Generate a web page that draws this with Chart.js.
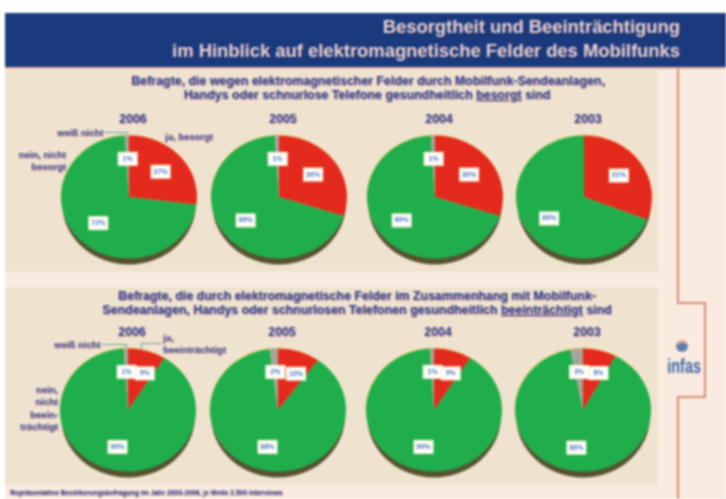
<!DOCTYPE html>
<html lang="de">
<head>
<meta charset="utf-8">
<title>Besorgtheit und Beeinträchtigung</title>
<script src="https://cdn.jsdelivr.net/npm/chart.js@4"></script>
<style>
html,body{margin:0;background:#fff;overflow:hidden}
#page{position:relative;width:726px;height:499px;overflow:hidden;background:#fff;filter:blur(1px);font-family:"Liberation Sans",Arial,sans-serif}
#page div,#page canvas{position:absolute}
.bg{left:5px;top:67px;width:721px;height:432px;background:#f9ebdf}
.band{left:5px;top:13px;width:721px;height:54px;background:#1b3a7d;border-bottom:2px solid #e9b3a4;box-sizing:content-box}
.panel{background:#efe3d0}
.rule{background:#d98a78}
.title{right:46px;color:#ead3da;font-weight:bold;font-size:18.4px;white-space:nowrap;text-shadow:1px 1px 0 #0f2557}
.sub,.year,.lab,.foot{color:#27408f;font-weight:bold;white-space:nowrap;text-shadow:1px 1px 0 rgba(226,120,120,.55)}
.sub{font-size:12.4px;transform:translateX(-50%)}
.year{font-size:12.3px;transform:translateX(-50%)}
.lab{font-size:9.5px;line-height:12.3px;color:#3d5196}
.lab.r{text-align:right}
.foot{font-size:6.8px;left:10px;top:489px}
.lead{background:#6f9a94}
.logo{left:662px;top:355px;width:38px;text-align:center;font-size:20px;font-weight:bold;color:#3f66a8;transform:scaleX(.72)}
.dot{left:676px;top:340px;width:12px;height:9px;border-radius:50%;background:#5d7fb0;border-top:3px solid #e0a596}
</style>
</head>
<body>
<div id="page">
  <div class="bg"></div>
  <div class="panel" style="left:5px;top:70px;width:653px;height:202px"></div>
  <div class="panel" style="left:5px;top:287px;width:653px;height:198px"></div>
  <div class="band"></div>
  <div class="title" style="top:16px">Besorgtheit und Beeinträchtigung</div>
  <div class="title" style="top:40px">im Hinblick auf elektromagnetische Felder des Mobilfunks</div>

  <div class="rule" style="left:677px;top:68px;width:2px;height:236px"></div>
  <div class="rule" style="left:677px;top:302px;width:28px;height:2px"></div>
  <div class="rule" style="left:704px;top:302px;width:2px;height:96px"></div>
  <div class="rule" style="left:677px;top:396px;width:28px;height:2px"></div>
  <div class="rule" style="left:677px;top:396px;width:2px;height:103px"></div>
  <div class="dot"></div>
  <div class="logo">infas</div>

  <div class="sub" style="left:368px;top:74px">Befragte, die wegen elektromagnetischer Felder durch Mobilfunk-Sendeanlagen,</div>
  <div class="sub" style="left:367px;top:88px">Handys oder schnurlose Telefone gesundheitlich <u>besorgt</u> sind</div>
  <div class="sub" style="left:357px;top:289px">Befragte, die durch elektromagnetische Felder im Zusammenhang mit Mobilfunk-</div>
  <div class="sub" style="left:357px;top:303px">Sendeanlagen, Handys oder schnurlosen Telefonen gesundheitlich <u>beeinträchtigt</u> sind</div>

  <div class="lab" style="left:57px;top:127px">weiß nicht</div>
  <div class="lead" style="left:105px;top:132px;width:23px;height:1px"></div>
  <div class="lead" style="left:127px;top:132px;width:1px;height:5px"></div>
  <div class="lab" style="left:165px;top:131px">ja, besorgt</div>
  <div class="lab r" style="right:660px;top:149px">nein, nicht<br>besorgt</div>

  <div class="lab" style="left:54px;top:339px">weiß nicht</div>
  <div class="lead" style="left:102px;top:344px;width:24px;height:1px"></div>
  <div class="lead" style="left:126px;top:344px;width:1px;height:6px"></div>
  <div class="lab" style="left:163px;top:332px">ja,<br>beeinträchtigt</div>
  <div class="lead" style="left:141px;top:343px;width:20px;height:1px"></div>
  <div class="lead" style="left:141px;top:343px;width:1px;height:6px"></div>
  <div class="lab r" style="right:668px;top:384px">nein,<br>nicht<br>beein-<br>trächtigt</div>

  <div class="foot">Repräsentative Bevölkerungsbefragung im Jahr 2003-2006, je Welle 2.500 Interviews</div>
</div>
<script>
const years = ['2006','2005','2004','2003'];
const sliceLabels = ['ja','nein','weiß nicht'];

// Oben: gesundheitlich besorgt
const besorgtJa    = [27,30,30,31];
const besorgtNein  = [72,69,69,69];
const besorgtWeiss = [1,1,1,0];

// Unten: gesundheitlich beeinträchtigt
const beeintrJa    = [9,10,9,8];
const beeintrNein  = [90,88,90,89];
const beeintrWeiss = [1,2,1,3];

const sliceColors = ['#e42a1c','#1fae4b','#a8a49a'];
const page = document.getElementById('page');
const squash = 0.905; // pies in the picture are slightly flattened

// flatten + drop shadow
const tiltPlugin = {
  id:'tilt',
  beforeDatasetsDraw(chart){
    const arc = chart.getDatasetMeta(0).data[0]; const c = chart.ctx;
    const r = arc.outerRadius;
    c.save();
    c.fillStyle='#56522f'; c.beginPath(); c.ellipse(arc.x,arc.y+6,r-1,r*squash,0,0,Math.PI*2); c.fill();
    c.fillStyle='#ecd27e'; c.beginPath(); c.ellipse(arc.x-.5,arc.y-1,r,r*squash,0,0,Math.PI*2); c.fill();
    c.translate(arc.x,arc.y); c.scale(1,squash); c.translate(-arc.x,-arc.y);
  },
  afterDatasetsDraw(chart){ chart.ctx.restore(); }
};

// white value boxes on the slices
const valuePlugin = {
  id:'values',
  afterDraw(chart){
    const c = chart.ctx; const values = chart.data.datasets[0].data;
    chart.getDatasetMeta(0).data.forEach((arc,i)=>{
      if(!values[i]) return;
      const mid = (arc.startAngle+arc.endAngle)/2;
      let x = arc.x+Math.cos(mid)*arc.outerRadius*.62;
      const y = arc.y+Math.sin(mid)*arc.outerRadius*.62*squash;
      if(i===0 && values[i]<15) x+=5; // narrow slice, keep clear of the weiß-nicht box
      c.fillStyle='#fdf8e4'; c.fillRect(x-10,y-7,20,14);
      c.fillStyle='#ffffff'; c.fillRect(x-8,y-5,16,10);
      c.fillStyle='#4a76b8'; c.font='bold 7px "Liberation Sans"'; c.textAlign='center'; c.textBaseline='middle';
      c.fillText(values[i]+'%',x,y);
    });
  }
};

function addPie(cx,cy,ja,nein,weiss){
  const cv = document.createElement('canvas');
  cv.width=160; cv.height=160;
  cv.style.left=(cx-80)+'px'; cv.style.top=(cy-80)+'px'; cv.style.width='160px'; cv.style.height='160px';
  page.appendChild(cv);
  new Chart(cv,{
    type:'pie',
    data:{labels:sliceLabels,datasets:[{data:[ja,nein,weiss],backgroundColor:sliceColors,borderWidth:0}]},
    options:{responsive:false,animation:false,radius:68,plugins:{legend:{display:false},tooltip:{enabled:false}}},
    plugins:[tiltPlugin,valuePlugin]
  });
}

function addYear(x,y,t){
  const d = document.createElement('div'); d.className='year'; d.textContent=t;
  d.style.left=x+'px'; d.style.top=y+'px'; page.appendChild(d);
}

const topX = [129,279,435,584];
const bottomX = [128,278,434,583];
years.forEach((y,i)=>{
  addPie(topX[i],197,besorgtJa[i],besorgtNein[i],besorgtWeiss[i]);
  addPie(bottomX[i],410,beeintrJa[i],beeintrNein[i],beeintrWeiss[i]);
  addYear(topX[i]+4,112,y);
  addYear(bottomX[i]+4,325,y);
});
</script>
</body>
</html>
